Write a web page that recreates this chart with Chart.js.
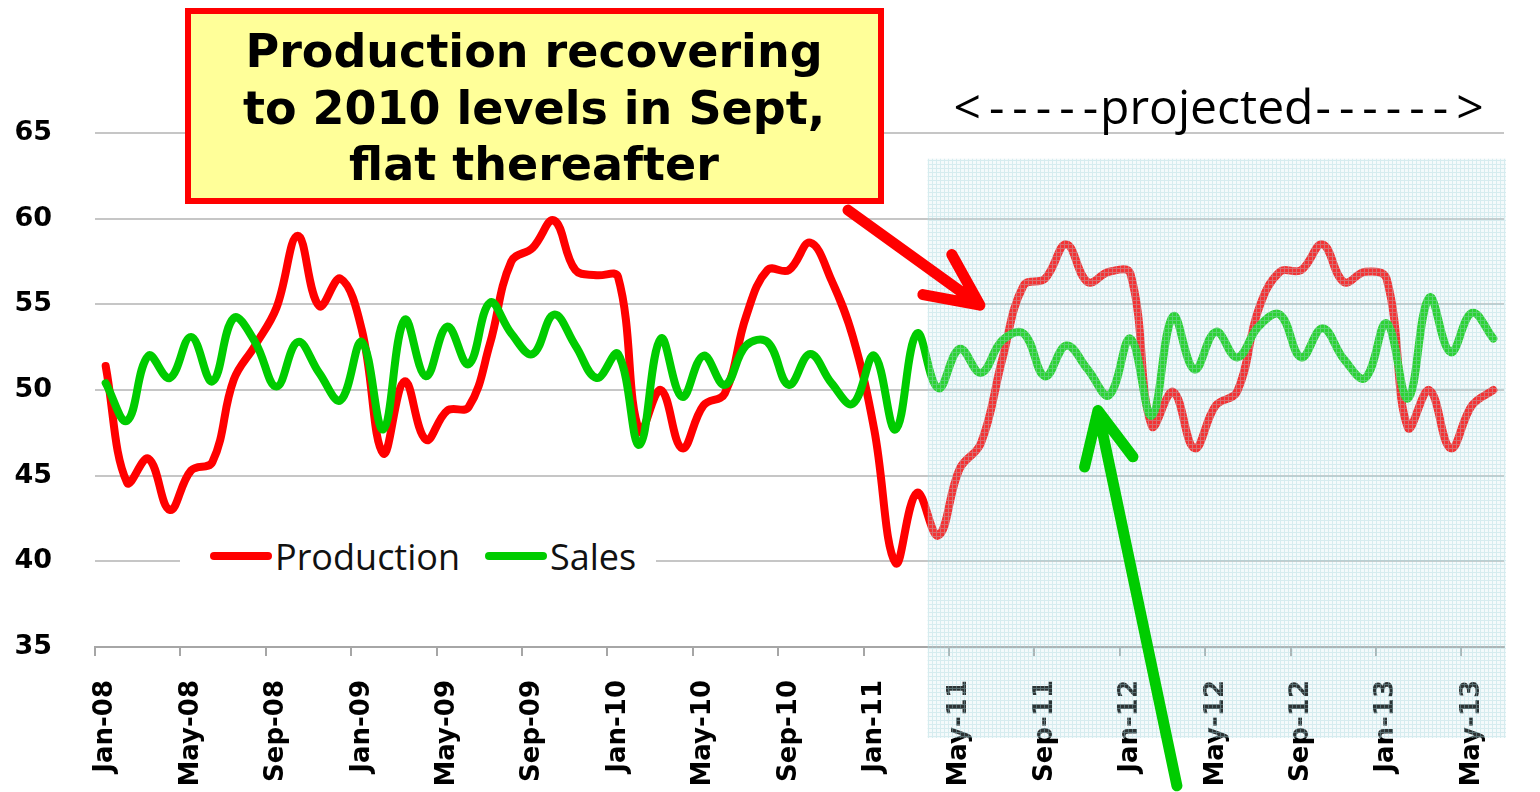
<!DOCTYPE html>
<html lang="en">
<head>
    <meta charset="UTF-8">
    <title>Production vs Sales</title>
    <script src="https://cdn.jsdelivr.net/npm/chart.js"></script>
    <style>
        body {
            margin: 0;
            background-color: #FFFFFF;
        }
        #chart-wrap {
            position: relative;
            width: 1540px;
            height: 792px;
        }
        #legend-container {
            position: absolute;
            left: 180px;
            top: 528px;
            width: 476px;
            height: 56px;
            background: #FFFFFF;
            display: flex;
            align-items: center;
            font-family: 'Open Sans', sans-serif;
            font-size: 36px;
            color: #111;
        }
        .legend-item {
            display: flex;
            align-items: center;
        }
        .legend-color {
            width: 62px;
            height: 8px;
            border-radius: 4px;
            margin-right: 3px;
        }
    </style>
</head>
<body>
    <div id="chart-wrap">
        <canvas id="myChart"></canvas>
        <div id="legend-container"></div>
    </div>

    <script>
        // monthly categories Jan-08 .. Jun-13
        var categories = [
            'Jan-08','Feb-08','Mar-08','Apr-08','May-08','Jun-08','Jul-08','Aug-08','Sep-08','Oct-08','Nov-08','Dec-08',
            'Jan-09','Feb-09','Mar-09','Apr-09','May-09','Jun-09','Jul-09','Aug-09','Sep-09','Oct-09','Nov-09','Dec-09',
            'Jan-10','Feb-10','Mar-10','Apr-10','May-10','Jun-10','Jul-10','Aug-10','Sep-10','Oct-10','Nov-10','Dec-10',
            'Jan-11','Feb-11','Mar-11','Apr-11','May-11','Jun-11','Jul-11','Aug-11','Sep-11','Oct-11','Nov-11','Dec-11',
            'Jan-12','Feb-12','Mar-12','Apr-12','May-12','Jun-12','Jul-12','Aug-12','Sep-12','Oct-12','Nov-12','Dec-12',
            'Jan-13','Feb-13','Mar-13','Apr-13','May-13','Jun-13'
        ];

        var production = [
            51.4, 44.6, 46.0, 43.0, 45.3, 45.8, 50.6, 52.6, 54.8, 59.0, 54.9, 56.5,
            53.5, 46.3, 50.5, 47.1, 48.8, 49.0, 52.7, 57.5, 58.3, 59.9, 57.0, 56.7,
            56.6, 47.6, 50.0, 46.6, 49.1, 49.8, 54.3, 57.0, 57.0, 58.6, 56.4, 53.1,
            47.7, 39.9, 44.0, 41.5, 45.4, 46.9, 51.8, 56.1, 56.5, 58.5, 56.3, 56.9,
            56.8, 47.9, 49.9, 46.6, 49.1, 49.9, 54.7, 56.9, 57.0, 58.5, 56.3, 56.9,
            56.5, 47.8, 50.0, 46.6, 49.1, 50.0
        ];

        var sales = [
            50.4, 48.2, 52.0, 50.7, 53.1, 50.5, 54.2, 52.8, 50.2, 52.8, 51.0, 49.4,
            52.8, 47.7, 54.1, 50.8, 53.7, 51.5, 55.1, 53.3, 52.1, 54.4, 52.6, 50.7,
            52.1, 46.8, 53.0, 49.6, 52.0, 50.3, 52.6, 52.8, 50.3, 52.1, 50.4, 49.2,
            52.0, 47.7, 53.3, 50.1, 52.4, 51.0, 52.9, 53.3, 50.8, 52.6, 51.2, 49.7,
            53.0, 48.5, 54.3, 51.2, 53.4, 51.9, 53.7, 54.4, 51.9, 53.6, 51.8, 50.7,
            53.9, 49.5, 55.4, 52.2, 54.5, 53.0
        ];

        var yTicks = [35, 40, 45, 50, 55, 60, 65];
        var labelEvery = 4;          // a date label every 4 months
        var projectedFrom = 39;      // Apr-11, start of the projected block

        var seriesColors = { production: '#FF0000', sales: '#00CC00' };

        // small grid texture for the projected block
        function makeHatch(ctx) {
            var c = document.createElement('canvas');
            c.width = 4; c.height = 4;
            var p = c.getContext('2d');
            p.fillStyle = 'rgba(205,234,238,0.22)';
            p.fillRect(0, 0, 4, 4);
            p.fillStyle = 'rgba(160,210,216,0.36)';
            p.fillRect(0, 0, 4, 1);
            p.fillRect(0, 1, 1, 3);
            return ctx.createPattern(c, 'repeat');
        }

        function drawArrow(ctx, x0, y0, x1, y1, color, width) {
            var ang = Math.atan2(y0 - y1, x0 - x1);
            var head = 58, spread = 0.44;
            ctx.strokeStyle = color;
            ctx.lineWidth = width;
            ctx.lineCap = 'round';
            ctx.lineJoin = 'round';
            ctx.beginPath();
            ctx.moveTo(x0, y0);
            ctx.lineTo(x1, y1);
            ctx.moveTo(x1 + head * Math.cos(ang - spread), y1 + head * Math.sin(ang - spread));
            ctx.lineTo(x1, y1);
            ctx.lineTo(x1 + head * Math.cos(ang + spread), y1 + head * Math.sin(ang + spread));
            ctx.stroke();
        }

        var annotations = {
            id: 'annotations',
            afterDraw: function(chart) {
                var ctx = chart.ctx;
                var area = chart.chartArea;
                var x = chart.scales.x, y = chart.scales.y;
                var half = (x.getPixelForValue(1) - x.getPixelForValue(0)) / 2;

                ctx.save();

                // projected block (covers lines and the lower labels)
                var left = x.getPixelForValue(projectedFrom) - half;
                var right = area.right + 2;
                var top = y.getPixelForValue(63.5);
                var bottom = area.bottom + 91;
                ctx.fillStyle = makeHatch(ctx);
                ctx.fillRect(left, top, right - left, bottom - top);

                // <-----projected------>
                var mid = (left + right) / 2 - 10;
                ctx.fillStyle = '#000';
                ctx.font = '48px "Open Sans"';
                ctx.textBaseline = 'alphabetic';
                ctx.textAlign = 'center';
                ctx.fillText('projected', mid, 124);
                var w = ctx.measureText('projected').width;
                ctx.letterSpacing = '8px';
                ctx.textAlign = 'right';
                ctx.fillText('<-----', mid - w / 2 + 6, 124);
                ctx.textAlign = 'left';
                ctx.fillText('------>', mid + w / 2 + 2, 124);
                ctx.letterSpacing = '0px';

                // arrows
                drawArrow(ctx,
                    x.getPixelForValue(34.77), y.getPixelForValue(60.5),
                    x.getPixelForValue(40.95), y.getPixelForValue(54.95),
                    seriesColors.production, 11);
                drawArrow(ctx,
                    x.getPixelForValue(50.18), y.getPixelForValue(26.9),
                    x.getPixelForValue(46.48), y.getPixelForValue(48.8),
                    seriesColors.sales, 11);

                // call-out box
                ctx.fillStyle = '#FFFF99';
                ctx.fillRect(188, 11, 693, 190);
                ctx.strokeStyle = '#FF0000';
                ctx.lineWidth = 6;
                ctx.lineCap = 'butt';
                ctx.lineJoin = 'miter';
                ctx.strokeRect(188, 11, 693, 190);
                ctx.fillStyle = '#000';
                ctx.font = 'bold 46px "DejaVu Sans"';
                ctx.textAlign = 'center';
                ['Production recovering', 'to 2010 levels in Sept,', 'flat thereafter'].forEach(function(line, i) {
                    ctx.fillText(line, 534, 67 + i * 56.5);
                });

                ctx.restore();
            }
        };

        var ctx = document.getElementById('myChart').getContext('2d');

        var myChart = new Chart(ctx, {
            type: 'line',
            data: {
                labels: categories,
                datasets: [{
                    label: 'Production',
                    data: production,
                    borderColor: seriesColors.production,
                    backgroundColor: seriesColors.production,
                    order: 1
                }, {
                    label: 'Sales',
                    data: sales,
                    borderColor: seriesColors.sales,
                    backgroundColor: seriesColors.sales,
                    order: 0
                }]
            },
            options: {
                responsive: true,
                maintainAspectRatio: false,
                animation: false,
                elements: {
                    line: {
                        borderWidth: 8,
                        tension: 0.4,
                        borderCapStyle: 'round',
                        borderJoinStyle: 'round'
                    },
                    point: { radius: 0, hoverRadius: 0 }
                },
                layout: {
                    padding: { top: 133, right: 36, left: 0, bottom: 0 }
                },
                scales: {
                    x: {
                        type: 'category',
                        offset: true,
                        afterFit: function(scale) {
                            scale.height = 145;
                            scale.paddingLeft = 0;
                            scale.paddingRight = 0;
                        },
                        border: { display: true, color: '#A6A6A6', width: 2 },
                        grid: {
                            offset: true,
                            drawOnChartArea: false,
                            drawTicks: true,
                            tickLength: 9,
                            lineWidth: 2,
                            color: function(context) {
                                return context.index % labelEvery === 0 ? '#A6A6A6' : 'rgba(0,0,0,0)';
                            }
                        },
                        ticks: {
                            autoSkip: false,
                            minRotation: 90,
                            maxRotation: 90,
                            padding: 24,
                            color: '#000',
                            font: { family: 'DejaVu Sans', weight: 'bold', size: 26 },
                            callback: function(value, index) {
                                return index % labelEvery === 0 ? categories[index] : '';
                            }
                        }
                    },
                    y: {
                        min: yTicks[0],
                        max: yTicks[yTicks.length - 1],
                        afterFit: function(scale) { scale.width = 95; },
                        afterBuildTicks: function(scale) {
                            scale.ticks = yTicks.map(function(v) { return { value: v }; });
                        },
                        border: { display: false },
                        grid: {
                            color: '#C6C6C6',
                            lineWidth: 2,
                            drawTicks: false
                        },
                        ticks: {
                            padding: 43,
                            color: '#000',
                            font: { family: 'DejaVu Sans', weight: 'bold', size: 27 }
                        }
                    }
                },
                plugins: {
                    legend: { display: false },
                    tooltip: { enabled: false }
                }
            },
            plugins: [annotations]
        });

        // Custom legend
        var legendContainer = document.getElementById('legend-container');
        myChart.data.datasets.forEach(function(ds, index) {
            var legendItem = document.createElement('div');
            legendItem.classList.add('legend-item');
            legendItem.style.marginLeft = index === 0 ? '30px' : '25px';

            var legendColor = document.createElement('div');
            legendColor.classList.add('legend-color');
            legendColor.style.backgroundColor = ds.borderColor;

            var legendLabel = document.createElement('div');
            legendLabel.textContent = ds.label;

            legendItem.appendChild(legendColor);
            legendItem.appendChild(legendLabel);
            legendContainer.appendChild(legendItem);
        });
    </script>
</body>
</html>
